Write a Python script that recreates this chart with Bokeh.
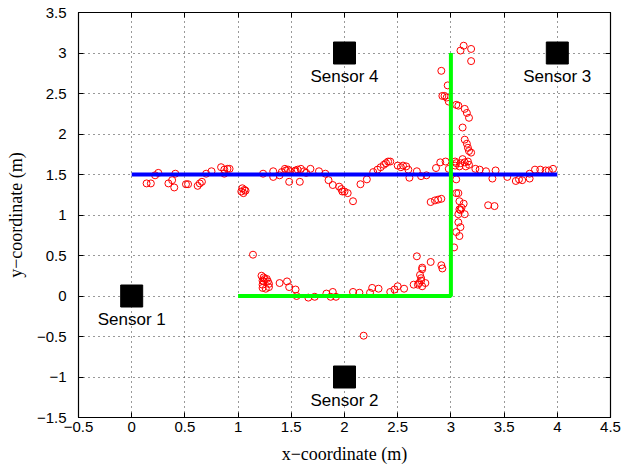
from bokeh.plotting import figure
from bokeh.models import FixedTicker, LinearAxis, ColumnDataSource, CustomLabelingPolicy
from bokeh.core.properties import value
from bokeh.embed import file_html
from bokeh.resources import INLINE

# Axis ticks and their printed labels
x_ticks = [-0.5, 0, 0.5, 1, 1.5, 2, 2.5, 3, 3.5, 4, 4.5]
x_tick_labels = ["\u22120.5", "0", "0.5", "1", "1.5", "2", "2.5", "3", "3.5", "4", "4.5"]
y_ticks = [-1.5, -1, -0.5, 0, 0.5, 1, 1.5, 2, 2.5, 3, 3.5]
y_tick_labels = ["\u22121.5", "\u22121", "\u22120.5", "0", "0.5", "1", "1.5", "2", "2.5", "3", "3.5"]

# Sensor positions
sensor_x = [0, 2, 4, 2]
sensor_y = [0, -1, 3, 3]
sensor_names = ["Sensor 1", "Sensor 2", "Sensor 3", "Sensor 4"]

# True paths: horizontal walk and L-shaped walk
path1_x = [0, 4]
path1_y = [1.5, 1.5]
path2_x = [1, 3, 3]
path2_y = [0, 0, 3]

# Estimated positions along the horizontal path (left and middle part)
est_a_x = [0.14, 0.18, 0.22, 0.25, 0.345, 0.38, 0.40, 0.41, 0.51, 0.53, 0.62, 0.64, 0.66,
           0.70, 0.75, 0.84, 0.87, 0.90, 0.92, 0.87, 1.03, 1.05, 1.06, 1.04, 1.07, 1.235,
           1.33, 1.33, 1.39, 1.41, 1.44, 1.45, 1.47, 1.49, 1.48, 1.53, 1.54, 1.56]
est_a_y = [1.39, 1.39, 1.49, 1.52, 1.39, 1.43, 1.34, 1.51, 1.38, 1.38, 1.36, 1.39, 1.41,
           1.51, 1.54, 1.59, 1.56, 1.57, 1.57, 1.51, 1.29, 1.27, 1.31, 1.33, 1.30, 1.51,
           1.54, 1.47, 1.49, 1.53, 1.57, 1.55, 1.56, 1.54, 1.41, 1.54, 1.55, 1.56]

est_b_x = [1.58, 1.59, 1.64, 1.62, 1.68, 1.76, 1.82, 1.85, 1.89, 1.95, 1.97, 1.98, 2.00,
           2.03, 2.08, 2.15, 2.21, 2.27, 2.31, 2.34, 2.37, 2.39, 2.41, 2.43, 2.50, 2.53,
           2.55, 2.58, 2.60, 2.61, 2.68, 2.72, 2.77, 2.86, 2.90, 2.95, 2.81, 2.85, 2.88, 2.91]
est_b_y = [1.41, 1.57, 1.52, 1.54, 1.57, 1.54, 1.51, 1.43, 1.37, 1.35, 1.32, 1.29, 1.29,
           1.27, 1.17, 1.38, 1.44, 1.53, 1.56, 1.59, 1.62, 1.64, 1.66, 1.66, 1.61, 1.59,
           1.61, 1.60, 1.56, 1.46, 1.54, 1.48, 1.49, 1.58, 1.65, 1.66, 1.16, 1.18, 1.19, 1.20]

# Estimated positions around the crossing at x = 3 and the right part
est_c_x = [3.12, 3.09, 3.19, 3.19, 2.91, 2.97, 2.92, 2.94, 2.96, 2.98, 3.05, 3.07, 3.13,
           3.15, 3.17, 3.11, 3.13, 3.15, 3.16, 3.17, 3.19,
           2.98, 3.04, 3.04, 3.05, 3.09, 3.11, 3.13, 3.16, 3.17, 3.08, 3.14, 3.23, 3.27,
           3.33, 3.39, 3.42, 3.53, 3.61, 3.64, 3.67, 3.74, 3.74, 3.79, 3.84, 3.89, 3.92,
           3.96, 3.05,
           3.35, 3.41, 3.05, 3.07, 3.08, 3.12, 3.10, 3.08, 3.09, 3.13, 3.07, 3.07, 3.09,
           3.05, 3.08, 3.03]
est_c_y = [3.09, 3.03, 3.05, 2.90, 2.78, 2.60, 2.47, 2.47, 2.45, 2.40, 2.36, 2.35, 2.31,
           2.26, 2.20, 2.08, 1.93, 1.88, 1.83, 1.79, 1.77,
           1.57, 1.66, 1.61, 1.64, 1.64, 1.69, 1.65, 1.66, 1.62, 1.60, 1.60, 1.57, 1.56,
           1.54, 1.45, 1.55, 1.47, 1.42, 1.44, 1.43, 1.45, 1.51, 1.56, 1.56, 1.55, 1.55,
           1.57, 1.44,
           1.12, 1.11, 1.27, 1.27, 1.17, 1.14, 1.09, 1.07, 1.06, 1.01, 1.01, 0.91, 0.85,
           0.79, 0.74, 0.60]

# Estimated positions along the bottom leg of the L-shaped path
est_d_x = [1.14, 1.22, 1.24, 1.25, 1.27, 1.23, 1.24, 1.28, 1.23, 1.26, 1.29, 1.29, 1.23,
           1.39, 1.46, 1.48, 1.54, 1.55, 1.66, 1.72, 1.83, 1.89, 1.87, 1.92, 2.08, 2.14,
           2.18, 2.24, 2.26, 2.32, 2.43, 2.47, 2.50, 2.56, 2.65, 2.69, 2.70, 2.72, 2.72,
           2.73, 2.76, 2.71, 2.73, 2.73, 2.68, 2.81, 2.91, 2.92]
est_d_y = [0.51, 0.25, 0.23, 0.21, 0.21, 0.19, 0.18, 0.18, 0.10, 0.09, 0.11, 0.15, 0.14,
           0.16, 0.18, 0.11, 0.08, 0.00, -0.02, -0.01, 0.03, 0.05, -0.01, -0.01, 0.05, 0.04,
           -0.49, 0.04, 0.10, 0.09, 0.05, 0.08, 0.12, 0.09, 0.14, 0.14, 0.16, 0.19, 0.22,
           0.12, 0.16, 0.26, 0.33, 0.35, 0.49, 0.42, 0.38, 0.34]

est_x = est_a_x + est_b_x + est_c_x + est_d_x
est_y = est_a_y + est_b_y + est_c_y + est_d_y

p = figure(frame_width=532, frame_height=405, x_range=(-0.5, 4.5), y_range=(-1.5, 3.5),
           output_backend="svg", toolbar_location=None,
           min_border_left=78, min_border_right=21, min_border_top=12, min_border_bottom=50)
p.background_fill_color = "white"
p.border_fill_color = "white"
p.outline_line_color = "black"
p.outline_line_width = 1.2

tick_font = value("Liberation Sans")

for ax, ticks, labels in ((p.xaxis[0], x_ticks, x_tick_labels), (p.yaxis[0], y_ticks, y_tick_labels)):
    ax.ticker = FixedTicker(ticks=ticks)
    ax.major_label_overrides = dict(zip(ticks, labels))
    ax.major_label_text_font = "Liberation Sans"
    ax.major_label_text_font_size = "15px"
    ax.major_label_text_color = "black"
    ax.axis_label_text_font = "Liberation Serif"
    ax.axis_label_text_font_size = "18px"
    ax.axis_label_text_font_style = "normal"
    ax.axis_label_text_color = "black"
    ax.major_tick_in = 5
    ax.major_tick_out = 0
    ax.minor_tick_line_color = None
    ax.axis_line_color = "black"
    ax.major_tick_line_color = "black"

p.xaxis.major_label_standoff = 4
p.xaxis.axis_label_standoff = 9
p.yaxis.major_label_standoff = 12
p.yaxis.axis_label_standoff = 8

p.xaxis.axis_label = "x\u2212coordinate (m)"
p.yaxis.axis_label = "y\u2212coordinate (m)"

# Mirror ticks on top and right edges (tick marks only, no labels)
no_labels = CustomLabelingPolicy(code="for (const i of indices) { indices.unset(i) }\nreturn indices")
for loc, ticks in (("above", x_ticks), ("right", y_ticks)):
    ax = LinearAxis(ticker=FixedTicker(ticks=ticks), major_label_policy=no_labels,
                    major_tick_in=5, major_tick_out=0, minor_tick_line_color=None,
                    major_label_standoff=0, axis_line_color="black",
                    major_tick_line_color="black")
    p.add_layout(ax, loc)

p.xgrid.ticker = FixedTicker(ticks=x_ticks)
p.ygrid.ticker = FixedTicker(ticks=y_ticks)
p.grid.grid_line_color = "#333333"
p.grid.grid_line_dash = "1 4"
p.grid.grid_line_width = 1

est_src = ColumnDataSource(data=dict(x=est_x, y=est_y))
p.scatter("x", "y", source=est_src, marker="circle", size=7, fill_color=None,
          line_color="red", line_width=1)

p.line(path1_x, path1_y, line_color="blue", line_width=4)
p.line(path2_x, path2_y, line_color="lime", line_width=4)

sensor_src = ColumnDataSource(data=dict(x=sensor_x, y=sensor_y, name=sensor_names))
p.scatter("x", "y", source=sensor_src, marker="square", size=22, fill_color="black",
          line_color="black")
p.text("x", "y", text="name", source=sensor_src, text_font=tick_font,
       text_font_size="17px", text_align="center", text_baseline="middle",
       y_offset=23, text_color="black")

open("out.html", "w").write(file_html(p, INLINE))
